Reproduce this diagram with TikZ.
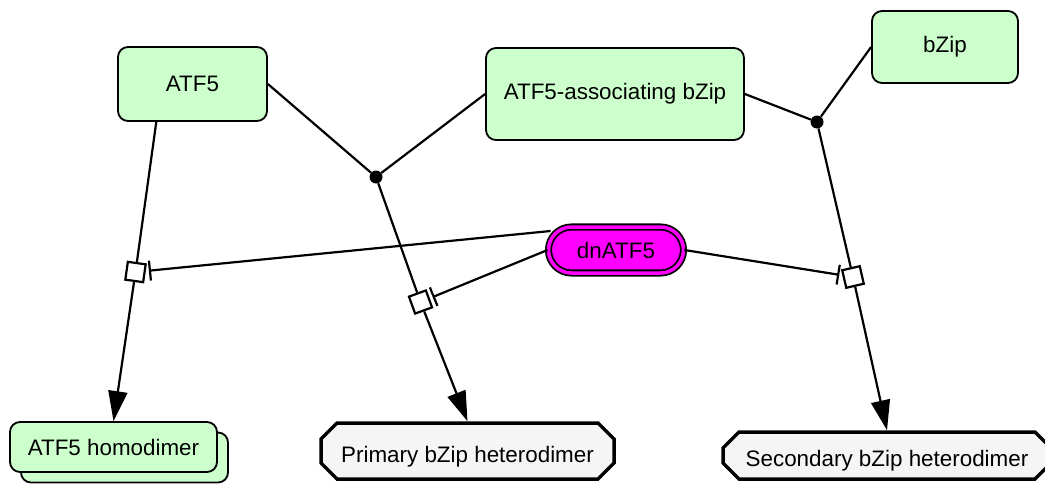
\documentclass[tikz,border=0pt]{standalone}
\usepackage{fontspec}
\setmainfont{Liberation Sans}
\usetikzlibrary{shapes.misc,arrows.meta,backgrounds,calc}
\definecolor{entgreen}{HTML}{CCFFCC}
\definecolor{cplxgray}{HTML}{F5F5F5}
\definecolor{sinkmag}{RGB}{255,0,255}
\begin{document}
\begin{tikzpicture}[x=1pt,y=-1pt, font=\fontsize{22.4}{26}\selectfont,
  ent/.style={draw=black, line width=1.8pt, fill=entgreen, rounded corners=10pt, inner sep=0pt},
  cplx/.style={chamfered rectangle, chamfered rectangle xsep=8pt, chamfered rectangle ysep=8pt,
    draw=black, line width=3.5pt, fill=cplxgray, inner sep=0pt},
  sink/.style={rounded rectangle, draw=black, fill=sinkmag, line width=1.8pt,
    double=sinkmag, double distance=3.5pt, inner sep=0pt},
  proc/.style={draw=black, fill=white, line width=2.2pt, minimum size=18pt, inner sep=0pt},
  assocdot/.style={circle, fill=black, minimum size=13pt, inner sep=0pt},
  edge/.style={line width=2.2pt},
  prod/.style={edge, -{Triangle[length=30pt,width=19pt]}},
  inhib/.style={edge, -{Bar[width=20pt,line width=2.2pt]}, shorten >=3pt}
]
\useasboundingbox (0,0) rectangle (1045,501);

% entity pools
\node[ent, minimum width=149pt, minimum height=74pt] (atf) at (192.5,84) {ATF5};
\node[ent, minimum width=258pt, minimum height=92pt] (assoc) at (615,94) {ATF5-associating bZip};
\node[ent, minimum width=146pt, minimum height=72pt] (bzip) at (945,47) {bZip};

% inhibitor
\node[sink, minimum width=135pt, minimum height=46pt] (dn) at (616,250) {dnATF5};

% products
\node[ent, minimum width=207pt, minimum height=50pt] (homoback) at (124.5,457.5) {};
\node[ent, minimum width=207pt, minimum height=50pt] (homo) at (113.5,447) {ATF5 homodimer};
\node[cplx, minimum width=293pt, minimum height=56pt, text height=28pt, text depth=5pt] (prim) at (467.5,451) {Primary bZip heterodimer};
\node[cplx, minimum width=328pt, minimum height=47pt, text height=26pt, text depth=5pt] (sec) at (887,455.5) {Secondary bZip heterodimer};

% association dots
\node[assocdot] (d1) at (376,177) {};
\node[assocdot] (d2) at (817,122) {};

% processes
\node[proc, rotate=-8] (p1) at (135.5,272) {};
\node[proc, rotate=20] (p2) at (420.5,302) {};
\node[proc, rotate=13] (p3) at (853,277) {};

\coordinate (atfbot) at ($(atf.south west)!0.26!(atf.south east)$);
\coordinate (i1) at ([shift={(3,-19)}]dn.west);

\begin{scope}[on background layer]
\draw[edge] (atf.east) -- (d1);
\draw[edge] (assoc.west) -- (d1);
\draw[edge] (d1) -- (p2);
\draw[edge] (atfbot) -- (p1);
\draw[edge] (assoc.east) -- (d2);
\draw[edge] (bzip.west) -- (d2);
\draw[edge] (d2) -- (p3);
\end{scope}

\draw[prod] (p1) -- (homo.north);
\draw[prod] (p2) -- (prim.north);
\draw[prod] (p3) -- (sec.north);

\draw[inhib] (i1) -- (p1);
\draw[inhib] (dn.west) -- (p2);
\draw[inhib] (dn.east) -- (p3);
\end{tikzpicture}
\end{document}
